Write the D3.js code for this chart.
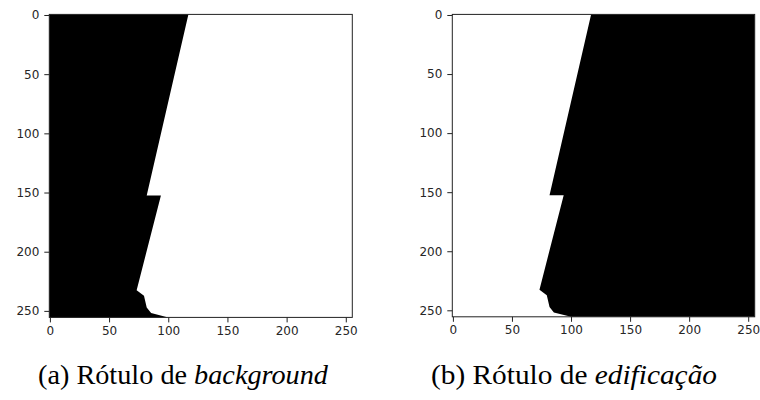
<!DOCTYPE html>
<html>
<head>
<meta charset="utf-8">
<script src="https://cdn.jsdelivr.net/npm/d3@7"></script>
<style>
  body { margin: 0; background: #fff; }
  .axis text { font-family: "DejaVu Sans", sans-serif; font-size: 12px; fill: #262626; }
  .axis path, .axis line { stroke: #222; }
  .caption { font-family: "Liberation Serif", "Times New Roman", serif; font-size: 27px; fill: #000; }
</style>
</head>
<body>
<div id="chart"></div>
<script>
// mask boundary (row -> column of the edge)
const boundaryRows = [-0.5, 152.5, 152.5, 232.5, 237.3, 247.2, 251.8, 255.5];
const boundaryCols = [117, 81.8, 93.8, 73.3, 79.5, 81.8, 85.5, 100];
const xTicks = [0, 50, 100, 150, 200, 250];
const yTicks = [0, 50, 100, 150, 200, 250];
const panelNames = ["a", "b"];
const captionPlain = ["(a) Rótulo de ", "(b) Rótulo de "];
const captionItalic = ["background", "edificação"];
const blackSide = ["left", "right"]; // which side of the edge is black

const width = 760, height = 400;
const panels = [
  {left: 49.3, top: 14.4, size: 303, capX: 38, capW: 290},
  {left: 452.3, top: 14.4, size: 302.4, capX: 431, capW: 286}
];

const boundary = boundaryRows.map((r, i) => ({row: r, col: boundaryCols[i]}));

const svg = d3.select("#chart").append("svg")
  .attr("width", width)
  .attr("height", height);

panels.forEach((p, i) => {
  const x = d3.scaleLinear().domain([-0.5, 255.5]).range([0, p.size]);
  const y = d3.scaleLinear().domain([-0.5, 255.5]).range([0, p.size]);

  const g = svg.append("g")
    .attr("class", "panel panel-" + panelNames[i])
    .attr("transform", "translate(" + p.left + "," + p.top + ")");

  g.append("rect")
    .attr("width", p.size)
    .attr("height", p.size)
    .attr("fill", "#fff");

  const area = d3.area()
    .y(d => y(d.row))
    .x0(d => blackSide[i] === "left" ? x(-0.5) : x(d.col))
    .x1(d => blackSide[i] === "left" ? x(d.col) : x(255.5));

  g.append("path")
    .datum(boundary)
    .attr("fill", "#000")
    .attr("d", area);

  // frame
  g.append("rect")
    .attr("width", p.size)
    .attr("height", p.size)
    .attr("fill", "none")
    .attr("stroke", "#222")
    .attr("stroke-width", 1);

  g.append("g")
    .attr("class", "axis x-axis")
    .attr("transform", "translate(0," + p.size + ")")
    .call(d3.axisBottom(x).tickValues(xTicks).tickSize(5).tickPadding(4))
    .call(a => a.select(".domain").remove());

  g.append("g")
    .attr("class", "axis y-axis")
    .call(d3.axisLeft(y).tickValues(yTicks).tickSize(5).tickPadding(5))
    .call(a => a.select(".domain").remove());

  const cap = svg.append("text")
    .attr("class", "caption")
    .attr("x", p.capX)
    .attr("y", 384)
    .attr("textLength", p.capW)
    .attr("lengthAdjust", "spacingAndGlyphs");
  cap.append("tspan").text(captionPlain[i]);
  cap.append("tspan").attr("font-style", "italic").text(captionItalic[i]);
});
</script>
</body>
</html>
